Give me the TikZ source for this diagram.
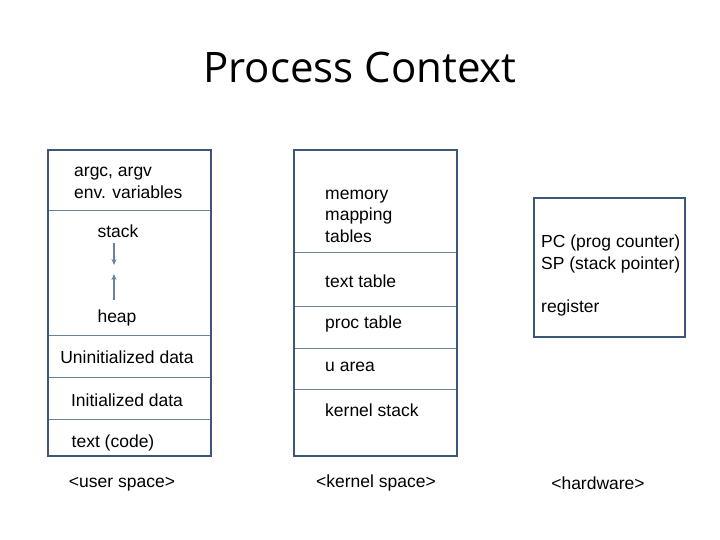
\documentclass[tikz,border=0pt]{standalone}
\usepackage{fontspec}
\setmainfont{Liberation Sans}
\newfontfamily\titlefont{Open Sans}
\usetikzlibrary{arrows.meta}
\begin{document}
\begin{tikzpicture}[x=1pt,y=-1pt,
  box/.style={draw=boxc,line width=2.5pt},
  div/.style={draw=divc,line width=0.7pt},
  lbl/.style={font=\fontsize{17.5}{21.5}\selectfont,inner sep=0pt},
  arr/.style={draw=divc,line width=1.3pt,-{Stealth[length=6pt,width=5pt]}}]
\definecolor{boxc}{HTML}{3B5878}
\definecolor{divc}{HTML}{6A829C}
\useasboundingbox (0,0) rectangle (720,540);
\node[font=\titlefont\fontsize{42}{48}\selectfont,inner sep=0pt] (title) at (360,68) {Process Context};
% left box
\draw[box] (48,150) rectangle (211,456);
\foreach \y in {210,335,377,419} \draw[div] (49,\y) -- (210,\y);
\node[lbl,anchor=west,align=left] (argc) at (74,183) {argc, argv\\env. variables};
\node[lbl] (stack) at (118,231) {stack};
\coordinate (s1) at (114,243); \coordinate (s2) at (114,265);
\coordinate (h1) at (114,300); \coordinate (h2) at (114,274);
\draw[arr] (s1) -- (s2);
\draw[arr] (h1) -- (h2);
\node[lbl] (heap) at (117,318) {heap};
\node[lbl] (uninit) at (127,357) {Uninitialized data};
\node[lbl] (init) at (127,400) {Initialized data};
\node[lbl] (text) at (113,443) {text (code)};
% middle box
\draw[box] (294,150) rectangle (457,456);
\foreach \y in {252,306,348,389} \draw[div] (295,\y) -- (456,\y);
\node[lbl,anchor=west,align=left] (mem) at (325,216) {memory\\mapping\\tables};
\node[lbl,anchor=west] (tt) at (325,281) {text table};
\node[lbl,anchor=west] (pt) at (325,324) {proc table};
\node[lbl,anchor=west] (ua) at (325,367) {u area};
\node[lbl,anchor=west] (ks) at (325,410) {kernel stack};
% right box
\draw[box] (534,198) rectangle (685,337);
\node[lbl,anchor=west,align=left] (pc) at (541,254) {PC (prog counter)\\SP (stack pointer)};
\node[lbl,anchor=west] (reg) at (541,308) {register};
% bottom labels
\node[lbl] (us) at (122,484) {<user space>};
\node[lbl] (kss) at (376,483) {<kernel space>};
\node[lbl] (hw) at (598,483) {<hardware>};
\end{tikzpicture}
\end{document}
